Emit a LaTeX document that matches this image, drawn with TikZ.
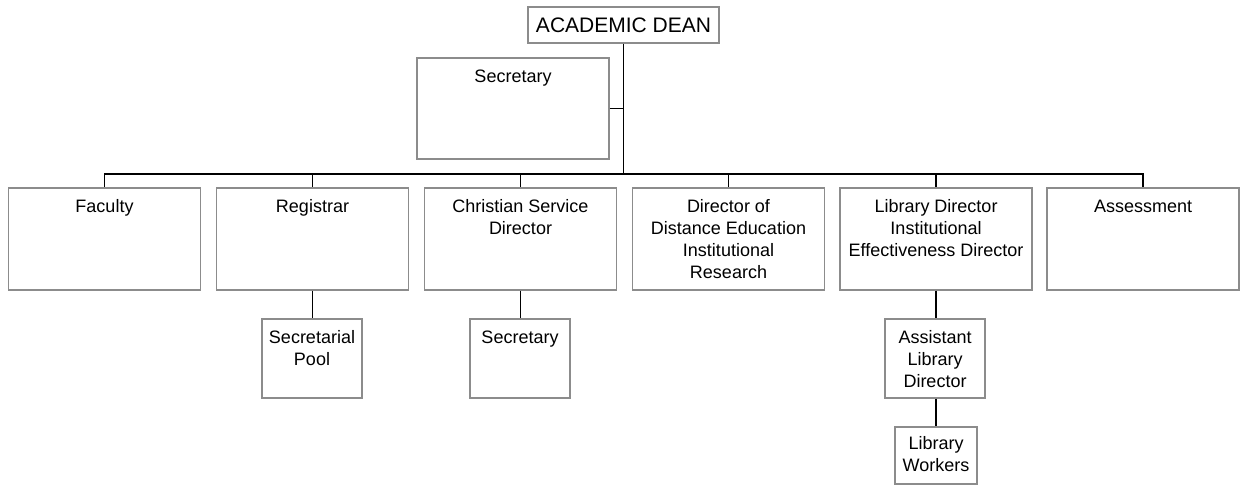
\documentclass[tikz,border=0pt]{standalone}
\usepackage{fontspec}
\setmainfont{Liberation Sans}
\usepackage{tikz}
\usetikzlibrary{positioning, calc}

\definecolor{boxgray}{gray}{0.55}

\tikzset{
  orgbox/.style={draw=boxgray, line width=0.6pt, inner sep=0pt, minimum width=96pt, minimum height=51pt},
  smallbox/.style={orgbox, minimum width=50pt, minimum height=39.5pt},
  orgtext/.style={font=\fontsize{9pt}{11pt}\selectfont, align=center, inner sep=0pt},
  link/.style={draw=black, line width=0.7pt}
}

\begin{document}
\begin{tikzpicture}[x=0.5pt, y=-0.5pt]
\useasboundingbox (0,0) rectangle (1240,485);

% Top of the chart
\node[draw=boxgray, line width=0.6pt, minimum width=95.5pt, minimum height=18pt, inner sep=0pt,
      font=\fontsize{10.5pt}{12pt}\selectfont] (dean) at (623.5,25) {ACADEMIC DEAN};
\node[orgbox, minimum height=50.5pt] (sec) at (513,108.5) {};
\node[orgtext, below=6pt of sec.north] (secT) {Secretary};
\coordinate (bar) at (623.5,174);

% First row
\node[orgbox] (fac) at (104.5,239) {};
\node[orgtext, below=6pt of fac.north] (facT) {Faculty};

\node[orgbox] (reg) at (312.5,239) {};
\node[orgtext, below=6pt of reg.north] (regT) {Registrar};

\node[orgbox] (csd) at (520.5,239) {};
\node[orgtext, below=6pt of csd.north] (csdT) {Christian Service\\Director};

\node[orgbox] (dde) at (728.5,239) {};
\node[orgtext, below=6pt of dde.north] (ddeT) {Director of\\Distance Education\\Institutional\\Research};

\node[orgbox] (lib) at (936,239) {};
\node[orgtext, below=6pt of lib.north] (libT) {Library Director\\Institutional\\Effectiveness Director};

\node[orgbox] (ass) at (1143,239) {};
\node[orgtext, below=6pt of ass.north] (assT) {Assessment};

% Second row
\node[smallbox] (pool) at (312,358.5) {};
\node[orgtext, below=6pt of pool.north] (poolT) {Secretarial\\Pool};

\node[smallbox] (csec) at (520,358.5) {};
\node[orgtext, below=6pt of csec.north] (csecT) {Secretary};

\node[smallbox] (asst) at (935,358.5) {};
\node[orgtext, below=6pt of asst.north] (asstT) {Assistant\\Library\\Director};

\node[smallbox, minimum width=41pt, minimum height=28.5pt] (work) at (936,455.5) {};
\node[orgtext, below=5pt of work.north] (workT) {Library\\Workers};

% Lines
\draw[link] (dean.south) -- (bar);
\draw[link] (sec.east) -- (sec.east -| dean.south);
\draw[link] (bar) -| (fac.north);
\draw[link] (bar) -| (reg.north);
\draw[link] (bar) -| (csd.north);
\draw[link] (bar) -| (dde.north);
\draw[link] (bar) -| (lib.north);
\draw[link] (bar) -| (ass.north);
\draw[link] (reg.south) -- (reg.south |- pool.north);
\draw[link] (csd.south) -- (csd.south |- csec.north);
\draw[link] (lib.south) -- (lib.south |- asst.north);
\draw[link] (asst.south -| lib.south) -- (work.north -| lib.south);
\end{tikzpicture}
\end{document}
